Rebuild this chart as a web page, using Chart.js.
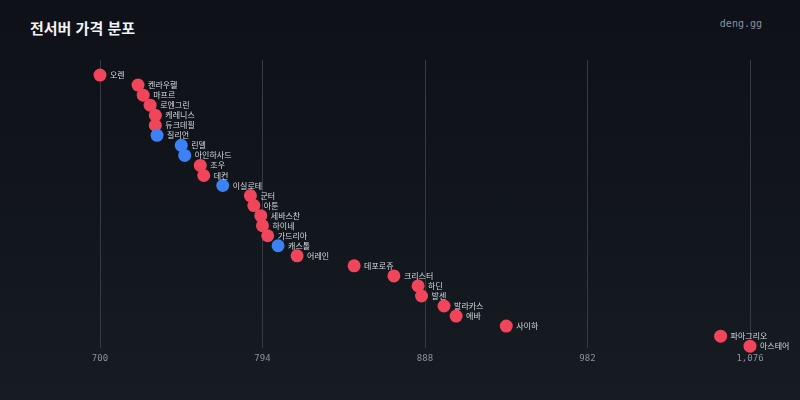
<!DOCTYPE html>
<html lang="ko">
<head>
<meta charset="utf-8">
<script src="https://cdn.jsdelivr.net/npm/chart.js@4"></script>
<style>
  html, body { margin: 0; padding: 0; }
  body {
    width: 800px; height: 400px; overflow: hidden;
    background: linear-gradient(180deg, #0e1117 0%, #12161d 60%, #171b22 100%);
    position: relative;
    font-family: "Noto Sans CJK KR", "Noto Sans", sans-serif;
  }
  #title {
    position: absolute; left: 30px; top: 17px;
    color: #f2f4f7; font-size: 15px; font-weight: 700;
  }
  #brand {
    position: absolute; right: 38px; top: 18px;
    color: #8a929e; font-size: 10px; font-family: "DejaVu Sans Mono", monospace;
  }
  #wrap { position: absolute; left: 0; top: 0; width: 800px; height: 400px; }
</style>
</head>
<body>
<div id="title">전서버 가격 분포</div>
<div id="brand">deng.gg</div>
<div id="wrap"><canvas id="priceChart"></canvas></div>
<script>
// 서버 이름 (가격 오름차순)
const servers = ['오렌', '켄라우헬', '마프르', '로엔그린', '케레니스', '듀크데필', '질리언', '린델',
  '아인하사드', '조우', '데컨', '이실로테', '군터', '아툰', '세바스찬', '하이네', '가드리아', '캐스톨',
  '어레인', '데포로쥬', '크리스터', '하딘', '발센', '발라카스', '에바', '사이하', '파아그리오', '아스테어'];
const prices = [700, 722, 725, 729, 732, 732, 733, 747, 749, 758, 760, 771, 787, 789, 793, 794,
  797, 803, 814, 847, 870, 884, 886, 899, 906, 935, 1059, 1076];
// 'b' = 파랑, 'r' = 빨강
const groups = ['r', 'r', 'r', 'r', 'r', 'r', 'b', 'b', 'b', 'r', 'r', 'b', 'r', 'r', 'r', 'r',
  'r', 'b', 'r', 'r', 'r', 'r', 'r', 'r', 'r', 'r', 'r', 'r'];
const xTicks = [700, 794, 888, 982, 1076];

const RED = '#f0455a';
const BLUE = '#3b82f6';

const points = prices.map((p, i) => ({ x: p, y: i }));
const colors = groups.map(g => g === 'b' ? BLUE : RED);

// 점 옆에 서버 이름 표시
const nameLabels = {
  id: 'nameLabels',
  afterDatasetsDraw(chart) {
    const { ctx, scales } = chart;
    ctx.save();
    ctx.font = '8px "Noto Sans CJK KR", sans-serif';
    ctx.fillStyle = '#d6dae1';
    ctx.textBaseline = 'middle';
    ctx.textAlign = 'left';
    servers.forEach((name, i) => {
      const x = scales.x.getPixelForValue(prices[i]);
      const y = scales.y.getPixelForValue(i);
      ctx.fillText(name, x + 10, y);
    });
    ctx.restore();
  }
};

const ctx = document.getElementById('priceChart').getContext('2d');
new Chart(ctx, {
  type: 'scatter',
  data: {
    datasets: [{
      data: points,
      pointRadius: 6.5,
      pointHoverRadius: 6.5,
      pointBackgroundColor: colors,
      pointBorderWidth: 0,
      showLine: false,
      clip: false
    }]
  },
  options: {
    responsive: true,
    maintainAspectRatio: false,
    animation: false,
    layout: { padding: { left: 100, right: 50, top: 60, bottom: 31 } },
    plugins: {
      legend: { display: false },
      tooltip: { enabled: false }
    },
    scales: {
      x: {
        type: 'linear',
        min: xTicks[0],
        max: xTicks[xTicks.length - 1],
        afterBuildTicks(axis) {
          axis.ticks = xTicks.map(v => ({ value: v }));
        },
        grid: { color: '#353a43', lineWidth: 1, drawTicks: false },
        border: { display: false },
        ticks: {
          color: '#8a929e',
          padding: 5,
          font: { family: '"DejaVu Sans Mono", monospace', size: 9 },
          callback: v => v.toLocaleString('en-US')
        }
      },
      y: {
        type: 'linear',
        reverse: true,
        min: -1.5,
        max: 27.2,
        display: false
      }
    }
  },
  plugins: [nameLabels]
});
</script>
</body>
</html>
